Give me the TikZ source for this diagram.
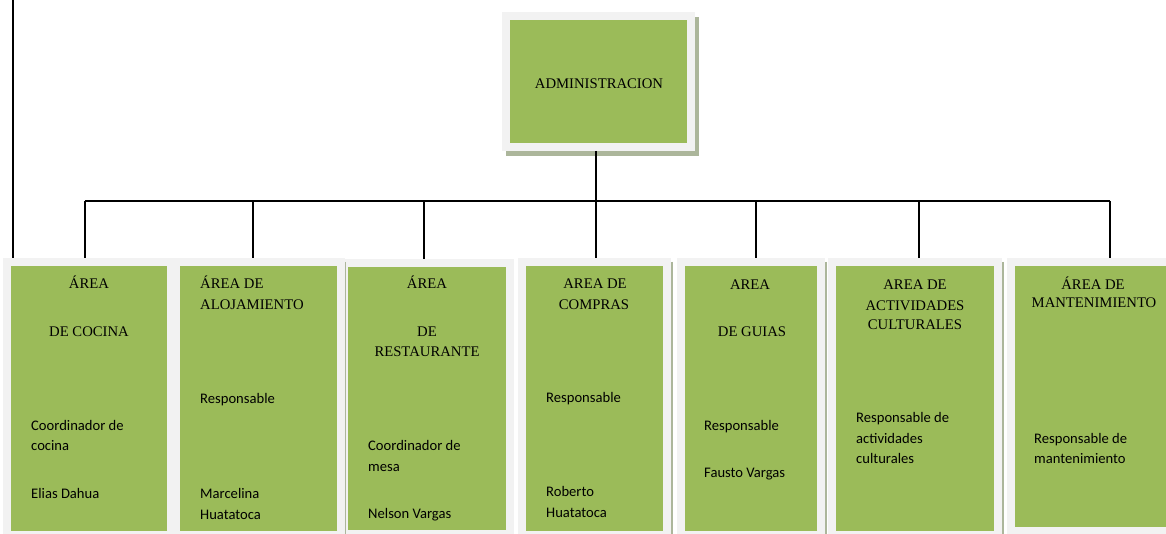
\documentclass[tikz,border=0pt]{standalone}
\usepackage{fontspec}
\setmainfont{Liberation Serif}
\newfontfamily\bodyfont{Carlito}
\definecolor{boxgreen}{HTML}{9BBB59}
\definecolor{framegray}{HTML}{F2F2F2}
\definecolor{shadec}{RGB}{172,182,155}
\tikzset{
 orgbox/.style={draw=framegray, line width=8pt, fill=boxgreen, inner sep=0pt, anchor=north west},
 head/.style={font=\fontsize{14.7}{19}\selectfont, inner sep=0pt, anchor=base, text=black},
 headl/.style={head, anchor=base west},
 body/.style={font=\bodyfont\fontsize{14.6}{20}\selectfont, inner sep=0pt, anchor=base west, text=black},
 conn/.style={line width=1.6pt, black},
 shadeline/.style={draw=shadec, line width=1.5pt},
}
\begin{document}
\begin{tikzpicture}[x=1pt,y=-1pt]
\useasboundingbox[fill=white] (0,0) rectangle (1166,534);
% administration
\fill[shadec] (506,17) rectangle (699,156);
\node[orgbox, minimum width=185pt, minimum height=131pt] (admin) at (502,12) {};
\node[head] (tadmin) at (599,89) {ADMINISTRACION};
% area boxes
\node[orgbox, minimum width=164pt, minimum height=273pt] (b1) at (3,258) {};
\node[orgbox, minimum width=165pt, minimum height=273pt] (b2) at (172,258) {};
\node[orgbox, minimum width=166pt, minimum height=271pt] (b3) at (340,259) {};
\node[orgbox, minimum width=145pt, minimum height=273pt] (b4) at (518,258) {};
\node[orgbox, minimum width=140pt, minimum height=273pt] (b5) at (677,258) {};
\node[orgbox, minimum width=166pt, minimum height=273pt] (b6) at (828,258) {};
\node[orgbox, minimum width=168pt, minimum height=269pt] (b7) at (1007,258) {};
\draw[shadeline] (345.5,262) -- (345.5,534);
\draw[shadeline] (672,262) -- (672,534);
\draw[shadeline] (826,262) -- (826,534);
\draw[shadeline] (1003,262) -- (1003,534);
% connectors
\coordinate (edge) at (13,0);
\coordinate (d1) at (85,201);
\coordinate (d2) at (253,201);
\coordinate (d3) at (424,201);
\coordinate (d4) at (596,201);
\coordinate (d5) at (756,201);
\coordinate (d6) at (919,201);
\coordinate (d7) at (1110,201);
\draw[conn] (edge) -- (edge |- b1.north);
\draw[conn] (d1) -- (d7);
\draw[conn] (admin.south -| d4) -- (d4 |- b4.north);
\draw[conn] (d1) -- (d1 |- b1.north);
\draw[conn] (d2) -- (d2 |- b2.north);
\draw[conn] (d3) -- (d3 |- b3.north);
\draw[conn] (d5) -- (d5 |- b5.north);
\draw[conn] (d6) -- (d6 |- b6.north);
\draw[conn] (d7) -- (d7 |- b7.north);
% box 1
\node[head] (t1a) at (89,289) {ÁREA};
\node[head] (t1b) at (89,336) {DE COCINA};
\node[body] (t1c) at (31,430) {Coordinador de};
\node[body] (t1d) at (31,450) {cocina};
\node[body] (t1e) at (31,498) {Elias Dahua};
% box 2
\node[headl] (t2a) at (200,289) {ÁREA DE};
\node[headl] (t2b) at (200,309) {ALOJAMIENTO};
\node[body] (t2c) at (200,403) {Responsable};
\node[body] (t2d) at (200,498) {Marcelina};
\node[body] (t2e) at (200,519) {Huatatoca};
% box 3
\node[head] (t3a) at (427,289) {ÁREA};
\node[head] (t3b) at (427,336) {DE};
\node[head] (t3c) at (427,356) {RESTAURANTE};
\node[body] (t3d) at (368,450) {Coordinador de};
\node[body] (t3e) at (368,471) {mesa};
\node[body] (t3f) at (368,518) {Nelson Vargas};
% box 4
\node[head] (t4a) at (595,289) {AREA DE};
\node[head] (t4b) at (594,309) {COMPRAS};
\node[body] (t4c) at (546,402) {Responsable};
\node[body] (t4d) at (546,496) {Roberto};
\node[body] (t4e) at (546,517) {Huatatoca};
% box 5
\node[head] (t5a) at (750,290) {AREA};
\node[head] (t5b) at (752,336) {DE GUIAS};
\node[body] (t5c) at (704,430) {Responsable};
\node[body] (t5d) at (704,477) {Fausto Vargas};
% box 6
\node[head] (t6a) at (915,290) {AREA DE};
\node[head] (t6b) at (915,310) {ACTIVIDADES};
\node[head] (t6c) at (915,329) {CULTURALES};
\node[body] (t6d) at (856,422) {Responsable de};
\node[body] (t6e) at (856,443) {actividades};
\node[body] (t6f) at (856,463) {culturales};
% box 7
\node[head] (t7a) at (1093,290) {ÁREA DE};
\node[head] (t7b) at (1094,308) {MANTENIMIENTO};
\node[body] (t7c) at (1034,443) {Responsable de};
\node[body] (t7d) at (1034,463) {mantenimiento};
\end{tikzpicture}
\end{document}
